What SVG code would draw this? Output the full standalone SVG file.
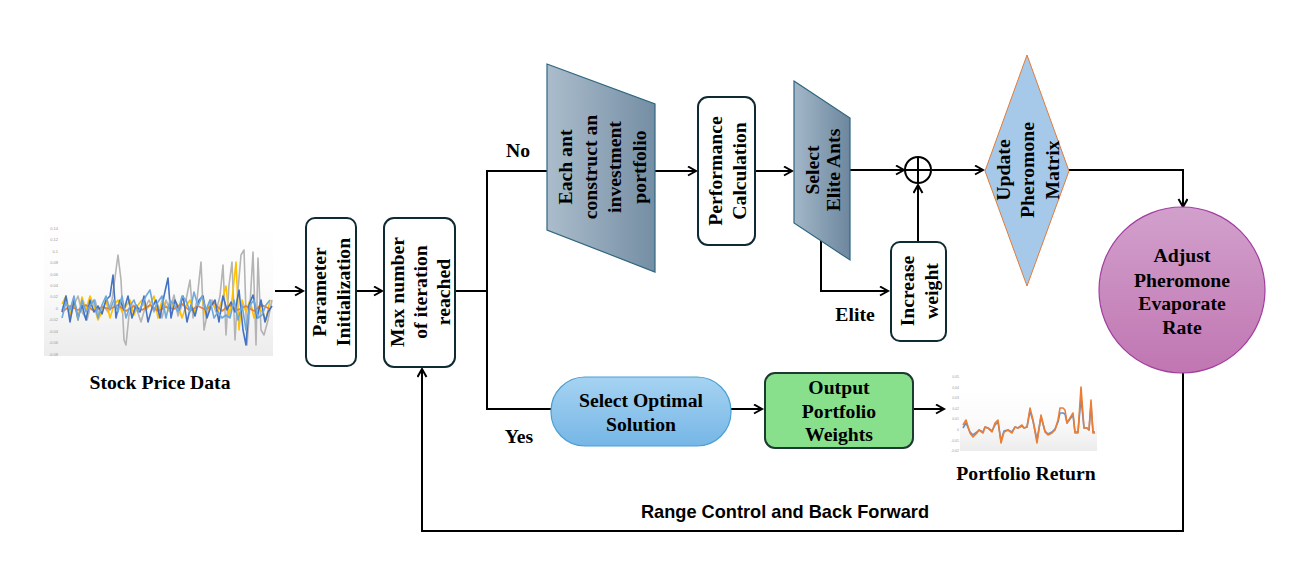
<svg xmlns="http://www.w3.org/2000/svg" width="1313" height="582" viewBox="0 0 1313 582">
<defs>
<style>
.t{font-family:"Liberation Serif","Times New Roman",serif;font-weight:bold;font-size:19.7px;fill:#000;text-anchor:middle}
.s{font-family:"Liberation Sans",Arial,sans-serif;font-weight:bold;font-size:18.2px;fill:#000;text-anchor:middle}
.box{fill:#fff;stroke:#0f2a33;stroke-width:2}
.c{fill:none;stroke:#000;stroke-width:2}
.ax{font-family:"Liberation Sans",Arial,sans-serif;font-size:4px;fill:#999;text-anchor:end}
.ln{fill:none;stroke-width:1.6;stroke-linejoin:round}
</style>
<marker id="arr" markerUnits="userSpaceOnUse" markerWidth="12" markerHeight="12" refX="9" refY="5" orient="auto">
<path d="M1,0.5 L9,5 L1,9.5" fill="none" stroke="#000" stroke-width="2"/>
</marker>
<linearGradient id="gTrap" x1="0" y1="0" x2="1" y2="0">
<stop offset="0" stop-color="#abbdcc"/><stop offset="1" stop-color="#758ea4"/>
</linearGradient>
<linearGradient id="gElite" x1="0" y1="0" x2="1" y2="0">
<stop offset="0" stop-color="#a3b7c8"/><stop offset="1" stop-color="#6d879e"/>
</linearGradient>
<linearGradient id="gCirc" x1="0" y1="0" x2="0" y2="1">
<stop offset="0" stop-color="#d2a0cc"/><stop offset="1" stop-color="#c076b2"/>
</linearGradient>
<linearGradient id="gPill" x1="0" y1="0" x2="0" y2="1">
<stop offset="0" stop-color="#a6d3f2"/><stop offset="1" stop-color="#76b6e6"/>
</linearGradient>
<linearGradient id="gChart" x1="0" y1="0" x2="0" y2="1">
<stop offset="0" stop-color="#ffffff"/><stop offset="0.5" stop-color="#fbfbfb"/><stop offset="1" stop-color="#ececec"/>
</linearGradient>
</defs>
<rect width="1313" height="582" fill="#fff"/>

<g id="stock-chart">
<rect x="44" y="222" width="229" height="134" fill="url(#gChart)"/>
<g class="ax">
<text x="58" y="230">0.14</text><text x="58" y="241">0.12</text><text x="58" y="253">0.1</text><text x="58" y="264">0.08</text><text x="58" y="276">0.06</text><text x="58" y="287">0.04</text><text x="58" y="298">0.02</text><text x="58" y="310">0</text><text x="58" y="321">-0.02</text><text x="58" y="333">-0.04</text><text x="58" y="344">-0.06</text><text x="58" y="356">-0.08</text>
</g>
<polyline class="ln" stroke="#b4b4b4" points="62,310 66,300 70,318 74,305 78,296 82,312 87,320 91,304 95,300 99,315 104,306 108,312 112,300 116,270 118,255 121,280 124,340 126,345 129,315 133,305 137,310 141,322 145,308 149,300 154,312 158,305 162,318 166,300 170,310 174,295 178,316 182,305 186,300 190,280 193,318 197,300 201,262 204,330 208,310 212,300 216,312 220,296 223,265 226,335 229,285 232,262 235,340 238,290 241,255 244,250 247,345 250,305 253,252 256,345 258,258 261,330 264,335 268,320 272,300"/>
<polyline class="ln" stroke="#ffc000" points="62,304 66,296 70,315 74,300 78,320 82,297 86,310 90,296 94,306 98,320 102,312 106,300 110,318 114,305 118,300 122,312 126,306 130,300 134,315 138,305 142,300 146,310 150,305 154,296 158,318 162,300 166,306 170,312 174,300 178,305 182,318 186,306 190,300 194,312 198,305 202,296 206,318 210,300 214,306 218,312 222,300 226,286 229,316 232,300 236,262 239,330 242,300 246,312 250,300 254,318 258,306 262,312 266,320 270,300"/>
<polyline class="ln" stroke="#ed7d31" points="62,312 70,306 78,310 86,305 94,311 102,307 110,309 118,305 126,311 134,306 142,310 150,305 158,311 166,307 174,309 182,304 190,311 198,306 206,310 214,303 222,311 230,305 238,310 246,306 254,311 262,305 270,309"/>
<polyline class="ln" stroke="#4472c4" points="62,312 66,296 70,322 74,300 78,318 82,305 86,320 90,300 94,312 98,306 102,314 106,300 110,296 113,275 116,318 120,300 124,310 128,296 132,318 136,305 140,312 144,296 148,322 152,308 156,300 160,318 164,296 168,278 171,318 175,300 179,310 183,296 187,322 191,305 195,316 199,300 203,296 207,318 211,306 215,300 219,322 223,296 227,310 231,302 235,312 239,290 243,330 246,345 249,305 253,295 257,318 261,300 265,322 268,312 272,306"/>
<polyline class="ln" stroke="#6fa8dc" points="62,318 66,302 70,310 74,296 78,320 82,300 86,312 90,306 94,300 98,318 102,305 106,296 110,310 114,300 118,312 122,296 126,318 130,306 134,300 138,312 142,305 146,296 150,290 154,310 158,302 162,296 166,318 170,300 174,305 178,312 182,296 186,300 190,312 194,292 198,306 202,296 206,310 210,300 214,318 218,312 222,318 226,315 230,318 234,300 238,320 242,305 246,330 250,305 254,300 258,318 262,315 266,305 270,300"/>
</g>
<text class="t" x="160" y="389">Stock Price Data</text>

<g id="connectors">
<path class="c" d="M275,291 H303" marker-end="url(#arr)"/>
<path class="c" d="M356,291 H382" marker-end="url(#arr)"/>
<path class="c" d="M455,291 H487"/>
<path class="c" d="M487,171 V409"/>
<path class="c" d="M486,171 H547"/>
<path class="c" d="M486,409 H551"/>
<path class="c" d="M655,171 H696" marker-end="url(#arr)"/>
<path class="c" d="M755,171 H792" marker-end="url(#arr)"/>
<path class="c" d="M850,170 H904" marker-end="url(#arr)"/>
<path class="c" d="M932,170 H983" marker-end="url(#arr)"/>
<path class="c" d="M821,241 V291 H888" marker-end="url(#arr)"/>
<path class="c" d="M918,242 V185" marker-end="url(#arr)"/>
<path class="c" d="M1069,170 H1183 V207" marker-end="url(#arr)"/>
<path class="c" d="M731,409 H762" marker-end="url(#arr)"/>
<path class="c" d="M913,409 H944" marker-end="url(#arr)"/>
<path class="c" d="M1183,373 V531 H422 V369" marker-end="url(#arr)"/>
</g>
<text class="t" x="518" y="157">No</text>
<text class="t" x="519" y="443">Yes</text>
<text class="t" x="855" y="321">Elite</text>
<text class="s" x="785" y="518">Range Control and Back Forward</text>

<g id="param-init">
<rect class="box" x="306" y="218" width="50" height="148" rx="9"/>
<g transform="translate(331,292) rotate(-90)"><text class="t" x="0" y="-5">Parameter</text><text class="t" x="0" y="18.5">Initialization</text></g>
</g>

<g id="max-iter">
<rect class="box" x="384" y="218" width="71" height="149" rx="10"/>
<g transform="translate(420,292) rotate(-90)"><text class="t" x="0" y="-16.5">Max number</text><text class="t" x="0" y="6.5">of iteration</text><text class="t" x="0" y="29.5">reached</text></g>
</g>

<g id="construct">
<polygon points="547,64 655,104 655,272 547,230" fill="url(#gTrap)" stroke="#2f6680" stroke-width="1.2"/>
<g transform="translate(602,167) rotate(-90)"><text class="t" x="0" y="-30">Each ant</text><text class="t" x="0" y="-5.5">construct an</text><text class="t" x="0" y="19">investment</text><text class="t" x="0" y="43.5">portfolio</text></g>
</g>

<g id="performance">
<rect class="box" x="698" y="97" width="57" height="148" rx="10"/>
<g transform="translate(727,171) rotate(-90)"><text class="t" x="0" y="-5.5">Performance</text><text class="t" x="0" y="19">Calculation</text></g>
</g>

<g id="elite">
<polygon points="794,81 850,118 850,260 794,223" fill="url(#gElite)" stroke="#2f6680" stroke-width="1.2"/>
<g transform="translate(823,170) rotate(-90)"><text class="t" x="0" y="-4.5">Select</text><text class="t" x="0" y="17">Elite Ants</text></g>
</g>

<g id="sum">
<circle cx="918" cy="170" r="13" fill="#fff" stroke="#000" stroke-width="2"/>
<path d="M905,170 H931 M918,157 V183" stroke="#000" stroke-width="2"/>
</g>

<g id="increase">
<rect class="box" x="891" y="242" width="55" height="99" rx="9"/>
<g transform="translate(919,291) rotate(-90)"><text class="t" x="0" y="-5.5">Increase</text><text class="t" x="0" y="19">weight</text></g>
</g>

<g id="update">
<polygon points="1027,55 1069,171 1027,286 985,171" fill="#a7c9e9" stroke="#e07b39" stroke-width="1"/>
<g transform="translate(1027,170) rotate(-90)"><text class="t" x="0" y="-17.5">Update</text><text class="t" x="0" y="7">Pheromone</text><text class="t" x="0" y="31.5">Matrix</text></g>
</g>

<g id="adjust">
<circle cx="1182" cy="290" r="83" fill="url(#gCirc)" stroke="#a23ea0" stroke-width="1.2"/>
<text class="t" x="1182" y="262">Adjust</text>
<text class="t" x="1182" y="287">Pheromone</text>
<text class="t" x="1182" y="310">Evaporate</text>
<text class="t" x="1182" y="334">Rate</text>
</g>

<g id="select-optimal">
<rect x="551" y="377" width="180" height="69" rx="34" fill="url(#gPill)" stroke="#4a9fd2" stroke-width="1.2"/>
<text class="t" x="641" y="407">Select Optimal</text>
<text class="t" x="641" y="431">Solution</text>
</g>

<g id="output">
<rect x="765" y="373" width="148" height="75" rx="10" fill="#88e08c" stroke="#1d3a2e" stroke-width="2"/>
<text class="t" x="839" y="394">Output</text>
<text class="t" x="839" y="418">Portfolio</text>
<text class="t" x="839" y="441">Weights</text>
</g>

<g id="return-chart">
<rect x="960" y="390" width="137" height="61" fill="url(#gChart)"/>
<g class="ax" style="font-size:3.5px">
<text x="959" y="378">0.05</text><text x="959" y="389">0.04</text><text x="959" y="399">0.03</text><text x="959" y="410">0.02</text><text x="959" y="420">0.01</text><text x="959" y="431">0</text><text x="959" y="442">-0.01</text><text x="959" y="452">-0.02</text>
</g>
<polyline class="ln" stroke="#5b8fd8" points="963,428 966,423 970,432 973,435 977,432 979,430 983,432 985,427 988,428 992,431 995,425 998,422 1001,441 1004,431 1008,430 1012,432 1015,427 1018,428 1022,426 1024,428 1027,427 1030,411 1033,421 1037,440 1041,417 1045,431 1048,434 1052,432 1055,429 1058,422 1060,413 1063,413 1065,414 1067,423 1070,419 1073,415 1075,432 1077,432 1078,432 1081,398 1084,428 1087,428 1089,430 1091,405 1093,432 1095,432"/>
<polyline class="ln" stroke="#ed7d31" points="963,425 966,420 970,433 973,437 977,433 979,430 983,433 985,427 988,428 992,432 995,423 998,420 1001,443 1004,432 1008,430 1012,433 1015,427 1018,428 1022,425 1024,428 1027,427 1030,408 1033,420 1037,443 1041,415 1045,432 1048,435 1052,433 1055,430 1058,420 1060,408 1063,408 1065,410 1067,423 1070,418 1073,413 1075,433 1077,433 1078,433 1081,387 1084,428 1087,428 1089,430 1091,400 1093,433 1095,433"/>
</g>
<text class="t" x="1026" y="480">Portfolio Return</text>
</svg>
